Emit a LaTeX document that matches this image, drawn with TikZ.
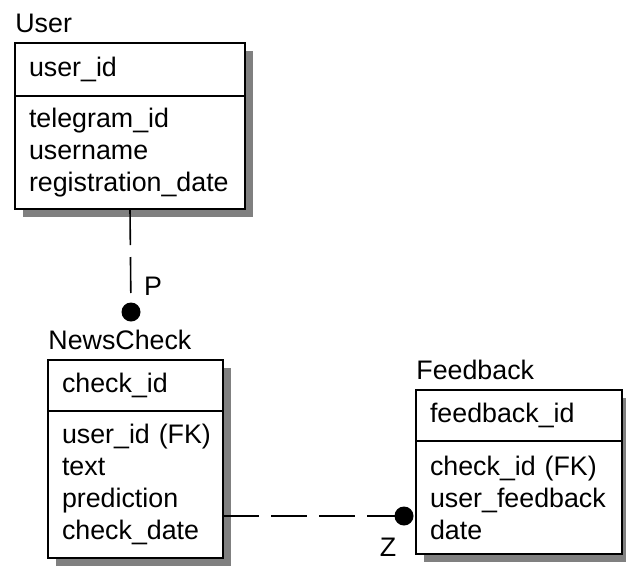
\documentclass[tikz,border=0pt]{standalone}
\usepackage{fontspec}
\setmainfont{Liberation Sans}
\usetikzlibrary{positioning,shadows,calc}

\tikzset{
  entity/.style={draw, line width=0.9pt, fill=white, outer sep=0pt,
    inner xsep=7pt, inner ysep=0pt, align=left,
    drop shadow={shadow xshift=4pt, shadow yshift=-4pt, fill=black!50, opacity=1}},
  title/.style={inner sep=0pt},
  rel/.style={line width=0.8pt, dash pattern=on 18pt off 6pt},
  card/.style={circle, fill=black, inner sep=0pt, minimum size=9.5pt},
  tag/.style={inner sep=0pt}
}

\begin{document}
\begin{tikzpicture}[x=0.5pt, y=-0.5pt, font=\fontsize{13.4pt}{16pt}\selectfont]
    \useasboundingbox (0,0) rectangle (626,568);

    % User
    \node[entity, anchor=north west, text width=101pt, minimum height=26.5pt] (userkey) at (15,43) {user\_id};
    \node[entity, below=0pt of userkey, text width=101pt, minimum height=56.5pt] (userattr)
      {telegram\_id\\ username\\ registration\_date};
    \node[title, above right=5pt and 0pt of userkey.north west] (usertitle) {User};

    % NewsCheck
    \node[entity, anchor=north west, text width=73.5pt, minimum height=25.5pt] (newskey) at (48,360) {check\_id};
    \node[entity, below=0pt of newskey, text width=73.5pt, minimum height=73.5pt] (newsattr)
      {user\_id~(FK)\\ text\\ prediction\\ check\_date};
    \node[title, above right=5pt and 0pt of newskey.north west] (newstitle) {NewsCheck};

    % Feedback
    \node[entity, anchor=north west, text width=89pt, minimum height=25.5pt] (feedkey) at (416,390) {feedback\_id};
    \node[entity, below=0pt of feedkey, text width=89pt, minimum height=56.5pt] (feedattr)
      {check\_id~(FK)\\ user\_feedback\\ date};
    \node[title, above right=5pt and 0pt of feedkey.north west] (feedtitle) {Feedback};

    % relationships
    \node[card] (pdot) at (131,312) {};
    \draw[rel] (userattr.south) -- (pdot.center);
    \node[tag] (plabel) at (153,286) {P};

    \node[card] (zdot) at (404,516) {};
    \draw[rel] (zdot -| newsattr.east) -- (zdot.center);
    \node[tag] (zlabel) at (388,547) {Z};
\end{tikzpicture}
\end{document}
